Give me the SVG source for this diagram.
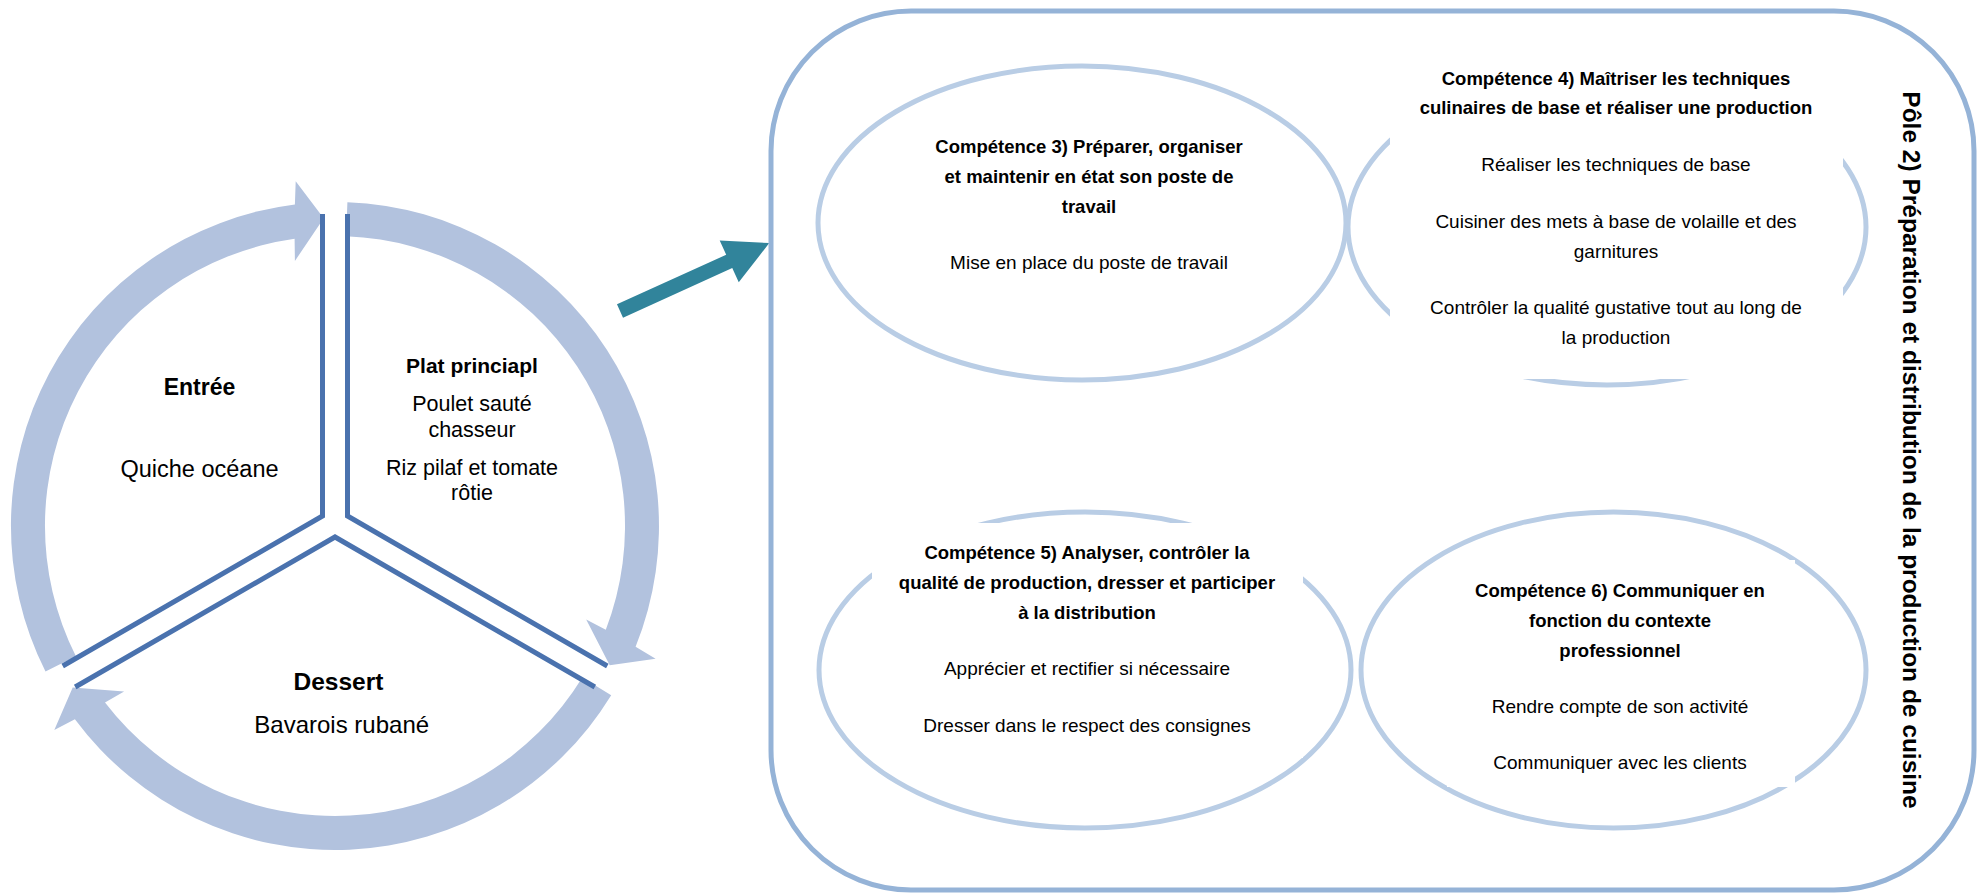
<svg xmlns="http://www.w3.org/2000/svg" width="1988" height="896" viewBox="0 0 1988 896">
<style>
.ring{fill:#B2C2DE;}
.edge{fill:none;stroke:#4A72AE;stroke-width:5;stroke-linejoin:miter;}
.ell{fill:none;stroke:#B9CDE5;stroke-width:5;}
.mask{fill:#FFFFFF;}
.frame{fill:none;stroke:#95B3D7;stroke-width:5;}
text{font-family:"Liberation Sans",Arial,sans-serif;fill:#000;text-anchor:middle;}
.h{font-weight:bold;font-size:18.5px;}
.b{font-size:19px;}
</style>
<rect width="1988" height="896" fill="#FFFFFF"/>
<g id="connectors">
  <path class="ring" d="M45.5,671.6 A324,324 0 0 1 294.9,204.5 L295.7,181.2 L323.7,218.2 L294.9,261.0 L294.6,238.8 A290,290 0 0 0 75.9,656.3 Z"/>
  <path class="ring" d="M347.4,202.2 A324,324 0 0 1 635.6,646.8 L655.6,658.8 L609.7,665.3 L586.2,619.4 L605.8,629.8 A290,290 0 0 0 346.1,236.2 Z"/>
  <path class="ring" d="M611.2,695.3 A324,324 0 0 1 74.9,719.2 L54.3,730.0 L72.7,687.4 L124.1,691.4 L105.0,702.6 A290,290 0 0 0 582.3,677.5 Z"/>
  <g transform="translate(620,311) rotate(-24.46)">
    <polygon points="0,-7.3 120,-7.3 120,-23 164,0 120,23 120,7.3 0,7.3" fill="#31849B"/>
  </g>
</g>
<g id="entree">
  <polyline class="edge" points="322.5,214 322.5,516 62.7,666"/>
  <text x="199.5" y="395" font-size="23" font-weight="bold">Entrée</text>
  <text x="199.5" y="477" font-size="23.5">Quiche océane</text>
</g>
<g id="plat">
  <polyline class="edge" points="347.5,214 347.5,516 607.3,666"/>
  <text x="472" y="373" font-size="21" font-weight="bold">Plat princiapl</text>
  <text x="472" y="411" font-size="21.5">Poulet sauté</text>
  <text x="472" y="437" font-size="21.5">chasseur</text>
  <text x="472" y="475" font-size="21.5">Riz pilaf et tomate</text>
  <text x="472" y="500" font-size="21.5">rôtie</text>
</g>
<g id="dessert">
  <polyline class="edge" points="75.2,687 335,537 594.8,687"/>
  <text x="338.5" y="690" font-size="24.5" font-weight="bold">Dessert</text>
  <text x="341.7" y="733" font-size="24">Bavarois rubané</text>
</g>
<g id="pole2">
  <rect class="frame" x="771" y="11" width="1203" height="879" rx="140" ry="140"/>
  <text transform="translate(1903,450) rotate(90)" font-size="24.5" font-weight="bold">Pôle 2) Préparation et distribution de la production de cuisine</text>
</g>
<g id="competence3">
  <ellipse class="ell" cx="1082" cy="223" rx="264" ry="157"/>
  <text class="h" x="1089" y="153">Compétence 3) Préparer, organiser</text>
  <text class="h" x="1089" y="183">et maintenir en état son poste de</text>
  <text class="h" x="1089" y="213">travail</text>
  <text class="b" x="1089" y="269">Mise en place du poste de travail</text>
</g>
<g id="competence4">
  <ellipse class="ell" cx="1607" cy="227" rx="259" ry="158"/>
  <rect class="mask" x="1390" y="50" width="453" height="329"/>
  <text class="h" x="1616" y="85">Compétence 4) Maîtriser les techniques</text>
  <text class="h" x="1616" y="114">culinaires de base et réaliser une production</text>
  <text class="b" x="1616" y="171">Réaliser les techniques de base</text>
  <text class="b" x="1616" y="228">Cuisiner des mets à base de volaille et des</text>
  <text class="b" x="1616" y="258">garnitures</text>
  <text class="b" x="1616" y="314">Contrôler la qualité gustative tout au long de</text>
  <text class="b" x="1616" y="344">la production</text>
</g>
<g id="competence5">
  <ellipse class="ell" cx="1085" cy="670" rx="266" ry="158"/>
  <rect class="mask" x="872" y="523" width="431" height="235"/>
  <text class="h" x="1087" y="559">Compétence 5) Analyser, contrôler la</text>
  <text class="h" x="1087" y="589">qualité de production, dresser et participer</text>
  <text class="h" x="1087" y="619">à la distribution</text>
  <text class="b" x="1087" y="675">Apprécier et rectifier si nécessaire</text>
  <text class="b" x="1087" y="732">Dresser dans le respect des consignes</text>
</g>
<g id="competence6">
  <ellipse class="ell" cx="1613.5" cy="670" rx="252.5" ry="158"/>
  <rect class="mask" x="1447" y="560" width="348" height="227"/>
  <text class="h" x="1620" y="597">Compétence 6) Communiquer en</text>
  <text class="h" x="1620" y="627">fonction du contexte</text>
  <text class="h" x="1620" y="657">professionnel</text>
  <text class="b" x="1620" y="713">Rendre compte de son activité</text>
  <text class="b" x="1620" y="769">Communiquer avec les clients</text>
</g>
</svg>
